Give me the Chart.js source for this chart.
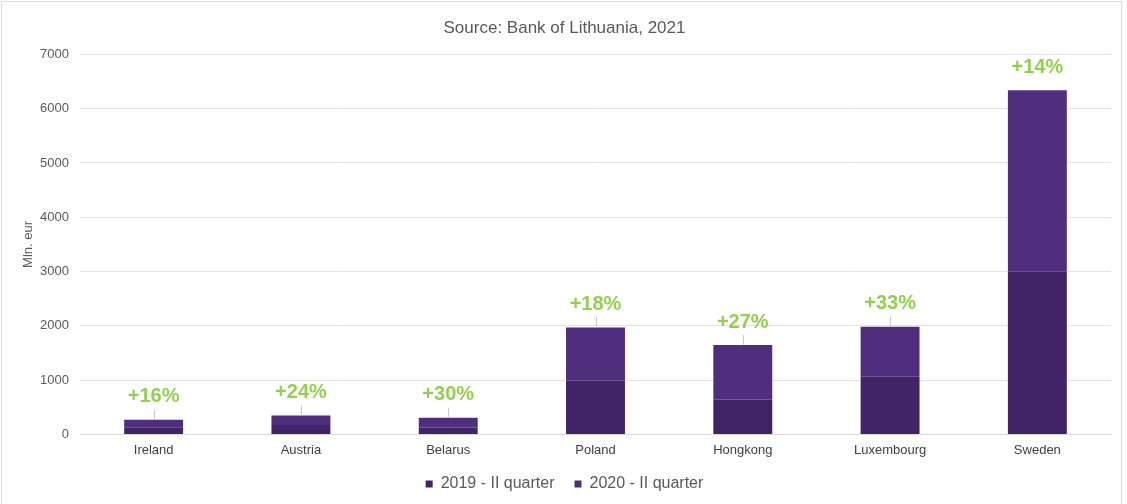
<!DOCTYPE html>
<html lang="en">
<head>
    <meta charset="UTF-8">
    <title>Source: Bank of Lithuania, 2021</title>
    <script src="https://cdn.jsdelivr.net/npm/chart.js"></script>
    <style>
        html, body {
            margin: 0;
            padding: 0;
            background: #ffffff;
        }

        .frame {
            position: absolute;
            left: 1px;
            top: 1px;
            width: 1121px;
            height: 508px;
            border: 1px solid #d9d9d9;
            box-sizing: border-box;
        }

        .chart-box {
            position: absolute;
            left: 0;
            top: 0;
            width: 1127px;
            height: 504px;
        }
    </style>
</head>
<body>
    <div class="frame"></div>
    <div class="chart-box">
        <canvas id="barChart"></canvas>
    </div>

    <script>
        // Datos
        const countries = ['Ireland', 'Austria', 'Belarus', 'Poland', 'Hongkong', 'Luxembourg', 'Sweden'];
        const q2019 = [122, 172, 129, 993, 642, 1061, 2998];
        const q2020 = [147, 178, 177, 977, 1004, 922, 3340];
        const growthLabels = ['+16%', '+24%', '+30%', '+18%', '+27%', '+33%', '+14%'];
        const yTicks = [0, 1000, 2000, 3000, 4000, 5000, 6000, 7000];

        const fontFamily = "'Liberation Sans', Arial, sans-serif";

        // Etiquetas de crecimiento con línea guía
        const growthPlugin = {
            id: 'growthLabels',
            beforeDraw(chart) {
                // subir un poco la leyenda
                const lg = chart.legend;
                if (lg && lg._baseTop !== lg.top) {
                    lg.top -= 10;
                    lg.bottom -= 10;
                    lg._baseTop = lg.top;
                }
            },
            afterDatasetsDraw(chart) {
                const ctx = chart.ctx;
                const meta = chart.getDatasetMeta(1);
                ctx.save();
                meta.data.forEach((bar, i) => {
                    const x = bar.x;
                    const top = bar.y;
                    const labelY = top - 23;
                    // línea guía
                    if (i < countries.length - 1) {
                        ctx.strokeStyle = '#c8c8c8';
                        ctx.lineWidth = 1;
                        ctx.beginPath();
                        ctx.moveTo(Math.round(x) + 0.5, labelY + 13);
                        ctx.lineTo(Math.round(x) + 0.5, top);
                        ctx.stroke();
                    }
                    ctx.fillStyle = '#92d050';
                    ctx.font = 'bold 20px ' + fontFamily;
                    ctx.textAlign = 'center';
                    ctx.textBaseline = 'middle';
                    ctx.fillText(growthLabels[i], x, labelY);
                });
                ctx.restore();
            }
        };

        new Chart(document.getElementById('barChart'), {
            type: 'bar',
            data: {
                labels: countries,
                datasets: [
                    {
                        label: '2019 - II quarter',
                        data: q2019,
                        backgroundColor: '#402466',
                        borderWidth: 0
                    },
                    {
                        label: '2020 - II quarter',
                        data: q2020,
                        backgroundColor: '#4f2e7e',
                        borderWidth: 0
                    }
                ]
            },
            options: {
                responsive: true,
                maintainAspectRatio: false,
                animation: false,
                datasets: {
                    bar: {
                        barPercentage: 0.4,
                        categoryPercentage: 1.0
                    }
                },
                layout: {
                    padding: { left: 18, right: 16, top: 0, bottom: -8 }
                },
                plugins: {
                    title: {
                        display: true,
                        text: 'Source: Bank of Lithuania, 2021',
                        color: '#595959',
                        font: { family: fontFamily, size: 17, weight: 'normal' },
                        padding: { top: 18, bottom: 16 }
                    },
                    legend: {
                        position: 'bottom',
                        labels: {
                            color: '#595959',
                            font: { family: fontFamily, size: 16 },
                            boxWidth: 7,
                            boxHeight: 7,
                            padding: 20
                        }
                    },
                    tooltip: { enabled: false }
                },
                scales: {
                    x: {
                        stacked: true,
                        grid: { display: false, drawTicks: false },
                        border: { color: '#d9d9d9' },
                        ticks: {
                            color: '#404040',
                            font: { family: fontFamily, size: 13 },
                            padding: 8
                        }
                    },
                    y: {
                        stacked: true,
                        min: 0,
                        max: 7000,
                        afterBuildTicks(axis) {
                            axis.ticks = yTicks.map(v => ({ value: v }));
                        },
                        afterFit(scale) {
                            scale.width = 62;
                        },
                        grid: {
                            color: '#e3e3e3',
                            drawTicks: false
                        },
                        border: { display: false },
                        ticks: {
                            color: '#595959',
                            font: { family: fontFamily, size: 13 },
                            padding: 11,
                            callback: v => String(v)
                        },
                        title: {
                            display: true,
                            text: 'Mln. eur',
                            color: '#595959',
                            font: { family: fontFamily, size: 13 },
                            padding: { top: 3, bottom: 0 }
                        }
                    }
                }
            },
            plugins: [growthPlugin]
        });
    </script>
</body>
</html>
